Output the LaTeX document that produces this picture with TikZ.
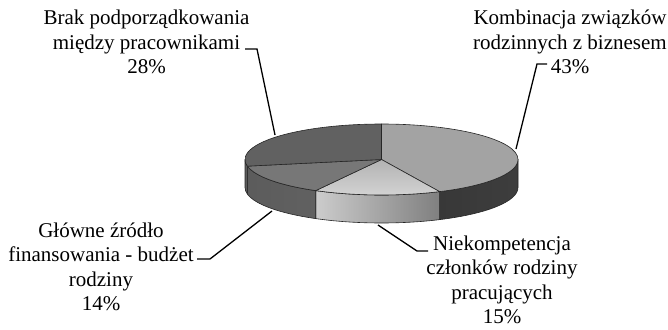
\documentclass[tikz,border=0pt]{standalone}
\usepackage{fontspec}
\setmainfont{Liberation Serif}
\begin{document}
\begin{tikzpicture}[x=1pt,y=1pt]
\useasboundingbox (0,0) rectangle (668,-329);
% pie geometry: centre, radii of the top ellipse, depth of the disc
\def\cx{381.5}\def\cy{-159.5}\def\rx{136.5}\def\ry{35.5}\def\dep{28}
\tikzset{
  edge/.style={draw=black!85, line width=0.6pt, line join=round},
  lbl/.style={align=center, font=\fontsize{21}{24.5}\selectfont, inner sep=0pt},
  leader/.style={draw=black, line width=1.3pt, line join=miter}
}
% side wall of a slice between two parametric angles
\newcommand\piewall[2]{({\cx+\rx*cos(#1)},{\cy+\ry*sin(#1)}) arc[start angle=#1,end angle=#2,x radius=\rx,y radius=\ry] -- ++(0,-\dep) arc[start angle=#2,end angle=#1,x radius=\rx,y radius=\ry] -- cycle}
% top face of a slice
\newcommand\pietop[2]{(\cx,\cy) -- ({\cx+\rx*cos(#1)},{\cy+\ry*sin(#1)}) arc[start angle=#1,end angle=#2,x radius=\rx,y radius=\ry] -- cycle}

\definecolor{kombTop}{HTML}{A3A3A3}
\definecolor{glowTop}{HTML}{777777}
\definecolor{brakTop}{HTML}{616161}

% walls
\shadedraw[edge, left color=black!78, middle color=black!66, right color=black!76] \piewall{0}{-64.8};
\shadedraw[edge, left color=black!20, right color=black!50] \piewall{-64.8}{-118.8};
\shadedraw[edge, left color=black!64, middle color=black!52, right color=black!62] \piewall{-118.8}{-169.2};
\shadedraw[edge, left color=black!64, right color=black!64] \piewall{-169.2}{-180};

% top faces
\filldraw[edge, fill=kombTop] \pietop{90}{-64.8};
\shadedraw[edge, top color=black!30, bottom color=black!17] \pietop{-64.8}{-118.8};
\filldraw[edge, fill=glowTop] \pietop{-118.8}{-169.2};
\filldraw[edge, fill=brakTop] \pietop{-169.2}{-270};

% labels
\node[lbl] (brak) at (146.5,-42) {Brak podporządkowania\\między pracownikami\\28\%};
\node[lbl] (komb) at (570,-42) {Kombinacja związków\\rodzinnych z biznesem\\43\%};
\node[lbl] (glow) at (101,-267) {Główne źródło\\finansowania - budżet\\rodziny\\14\%};
\node[lbl] (niek) at (502,-280) {Niekompetencja\\członków rodziny\\pracujących\\15\%};

% leader ends
\coordinate (brakA) at (245,-49);
\coordinate (brakB) at (275,-135);
\coordinate (kombA) at (547,-64);
\coordinate (kombB) at (516,-149);
\coordinate (glowA) at (197,-259);
\coordinate (glowB) at (272,-211);
\coordinate (niekA) at (428,-251);
\coordinate (niekB) at (378,-225);

\draw[leader] (brakA) -- ++(12,0) -- (brakB);
\draw[leader] (kombA) -- ++(-10,0) -- (kombB);
\draw[leader] (glowA) -- ++(13,0) -- (glowB);
\draw[leader] (niekA) -- ++(-11,0) -- (niekB);
\end{tikzpicture}
\end{document}
